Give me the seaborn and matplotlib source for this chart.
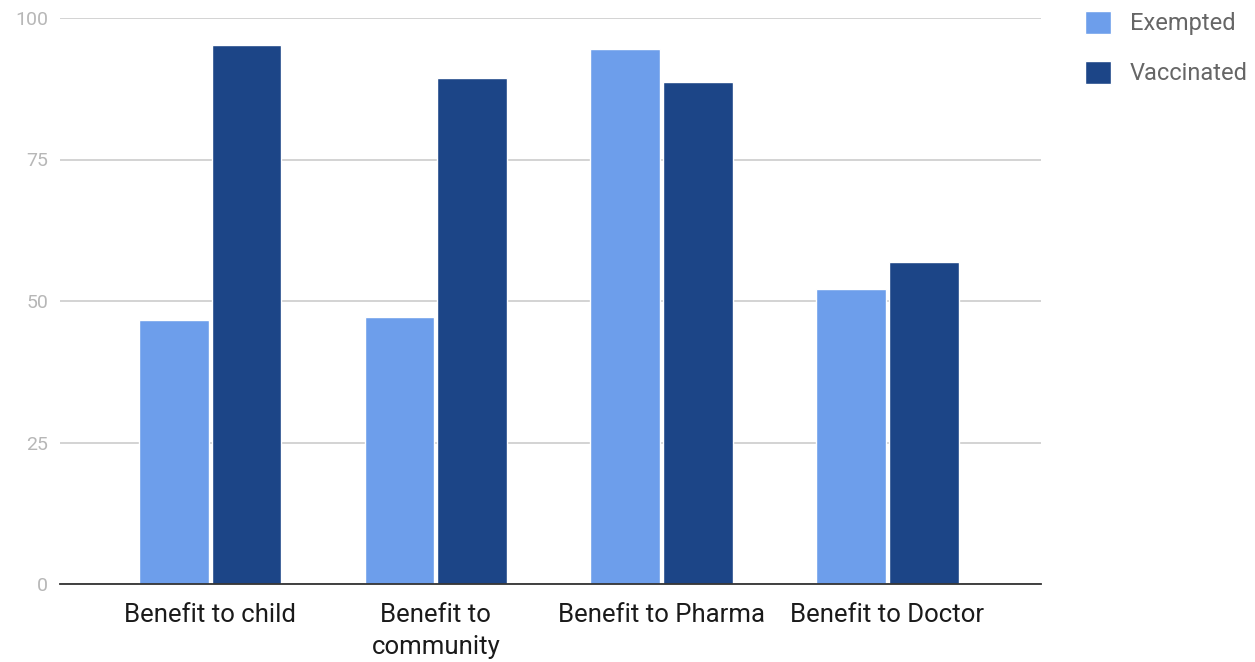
import pandas as pd
import matplotlib
matplotlib.use("Agg")
import matplotlib.pyplot as plt
import seaborn as sns

# values
categories = ["Benefit to child", "Benefit to\ncommunity", "Benefit to Pharma", "Benefit to Doctor"]
exempted = [46.6, 47.1, 94.5, 52.1]
vaccinated = [95.3, 89.4, 88.7, 56.9]
yticks = [0, 25, 50, 75, 100]

df = pd.DataFrame({
    "category": categories * 2,
    "group": ["Exempted"] * 4 + ["Vaccinated"] * 4,
    "value": exempted + vaccinated,
})

sns.set_style("white")
plt.rcParams["font.family"] = ["Roboto", "DejaVu Sans"]

fig = plt.figure(figsize=(12.55, 6.62), dpi=100)
ax = fig.add_axes([60 / 1255, 78 / 662, 981 / 1255, 566 / 662])

sns.barplot(data=df, x="category", y="value", hue="group",
            palette={"Exempted": "#6d9eeb", "Vaccinated": "#1c4587"},
            saturation=1, width=0.645, gap=0.04, ax=ax, zorder=3)

ax.set_xlim(-0.665, 3.68)
ax.set_ylim(0, 100)
ax.set_yticks(yticks)
ax.set_yticklabels([str(t) for t in yticks])
ax.yaxis.grid(True, color="#cccccc", linewidth=1.2, zorder=0)
ax.set_axisbelow(True)
for s in ["top", "right", "left"]:
    ax.spines[s].set_visible(False)
ax.spines["bottom"].set_color("#333333")
ax.spines["bottom"].set_linewidth(1.3)
ax.spines["bottom"].set_zorder(4)
ax.tick_params(axis="y", length=0, pad=8.5, labelsize=14, labelcolor="#b7b7b7")
ax.tick_params(axis="x", length=0, pad=14, labelsize=18.5, labelcolor="#1a1a1a")
for lbl in ax.get_xticklabels():
    lbl.set_linespacing(1.38)
ax.set_xlabel("")
ax.set_ylabel("")

ax.legend(loc="upper left", bbox_to_anchor=(1074 / 1255, 1.0), bbox_transform=fig.transFigure,
          frameon=False, fontsize=17, labelcolor="#666666", handlelength=1.12, handleheight=1.12,
          labelspacing=1.08, handletextpad=0.8, borderaxespad=0.05)

fig.savefig("out.png", dpi=100)
